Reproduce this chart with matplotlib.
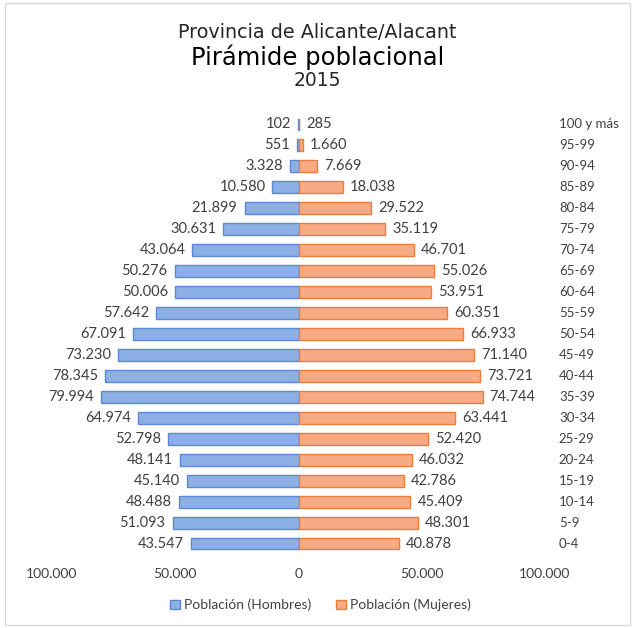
import matplotlib
matplotlib.use("Agg")
import matplotlib.pyplot as plt
from matplotlib.patches import Rectangle

age_groups = ["0-4", "5-9", "10-14", "15-19", "20-24", "25-29", "30-34", "35-39",
              "40-44", "45-49", "50-54", "55-59", "60-64", "65-69", "70-74",
              "75-79", "80-84", "85-89", "90-94", "95-99", "100 y más"]
hombres = [43547, 51093, 48488, 45140, 48141, 52798, 64974, 79994, 78345, 73230,
           67091, 57642, 50006, 50276, 43064, 30631, 21899, 10580, 3328, 551, 102]
mujeres = [40878, 48301, 45409, 42786, 46032, 52420, 63441, 74744, 73721, 71140,
           66933, 60351, 53951, 55026, 46701, 35119, 29522, 18038, 7669, 1660, 285]
x_ticks = [-100000, -50000, 0, 50000, 100000]
x_tick_labels = ["100.000", "50.000", "0", "50.000", "100.000"]


def fmt(v):
    return f"{v:,}".replace(",", ".")


blue_fill, blue_edge = "#8cb0e6", "#5a88d4"
orange_fill, orange_edge = "#f7ab84", "#ec7c3a"
text_col = "#404040"
label_font = "Lato"

fig = plt.figure(figsize=(6.35, 6.28), dpi=100)
fig.patch.set_facecolor("white")
fig.add_artist(Rectangle((0.008, 0.005), 0.984, 0.99, transform=fig.transFigure,
                         fill=False, edgecolor="#d9d9d9", linewidth=1.0))

ax = fig.add_axes([52 / 635, 1 - 554 / 628, 493 / 635, 440 / 628])
y = list(range(len(age_groups)))
ax.barh(y, [-h for h in hombres], height=0.57, color=blue_fill,
        edgecolor=blue_edge, linewidth=1.0, label="Población (Hombres)")
ax.barh(y, mujeres, height=0.57, color=orange_fill,
        edgecolor=orange_edge, linewidth=1.0, label="Población (Mujeres)")

for yi, h, m in zip(y, hombres, mujeres):
    ax.annotate(fmt(h), (-h, yi), xytext=(-5, 0), textcoords="offset points",
                ha="right", va="center", fontsize=10.5, color=text_col,
                family=label_font)
    ax.annotate(fmt(m), (m, yi), xytext=(5, 0), textcoords="offset points",
                ha="left", va="center", fontsize=10.5, color=text_col,
                family=label_font)

ax.set_xlim(-100000, 100000)
ax.set_ylim(-0.5, len(age_groups) - 0.5)
ax.set_xticks(x_ticks)
ax.set_xticklabels(x_tick_labels, family=label_font, fontsize=10, color=text_col)
ax.set_yticks(y)
ax.set_yticklabels(age_groups, family=label_font, fontsize=9.5, color=text_col,
                   va="center")
ax.yaxis.tick_right()
ax.tick_params(axis="y", length=0, pad=10)
ax.tick_params(axis="x", length=0, pad=10)
for side in ["top", "right", "bottom", "left"]:
    ax.spines[side].set_visible(False)

fig.text(0.5, 1 - 32 / 628, "Provincia de Alicante/Alacant", ha="center",
         va="center", fontsize=13.8, color="#262626", family="DejaVu Sans")
fig.text(0.5, 1 - 57 / 628, "Pirámide poblacional", ha="center",
         va="center", fontsize=17.5, color="#000000", family="DejaVu Sans")
fig.text(0.5, 1 - 81 / 628, "2015", ha="center", va="center",
         fontsize=13.5, color="#262626", family="DejaVu Sans")

fig.legend(loc="center", bbox_to_anchor=(0.505, 1 - 605 / 628), ncol=2,
           frameon=False, handlelength=0.7, handleheight=0.7,
           handletextpad=0.3, columnspacing=1.8,
           prop={"family": label_font, "size": 10}, labelcolor=text_col)

fig.savefig("out.png", dpi=100)
